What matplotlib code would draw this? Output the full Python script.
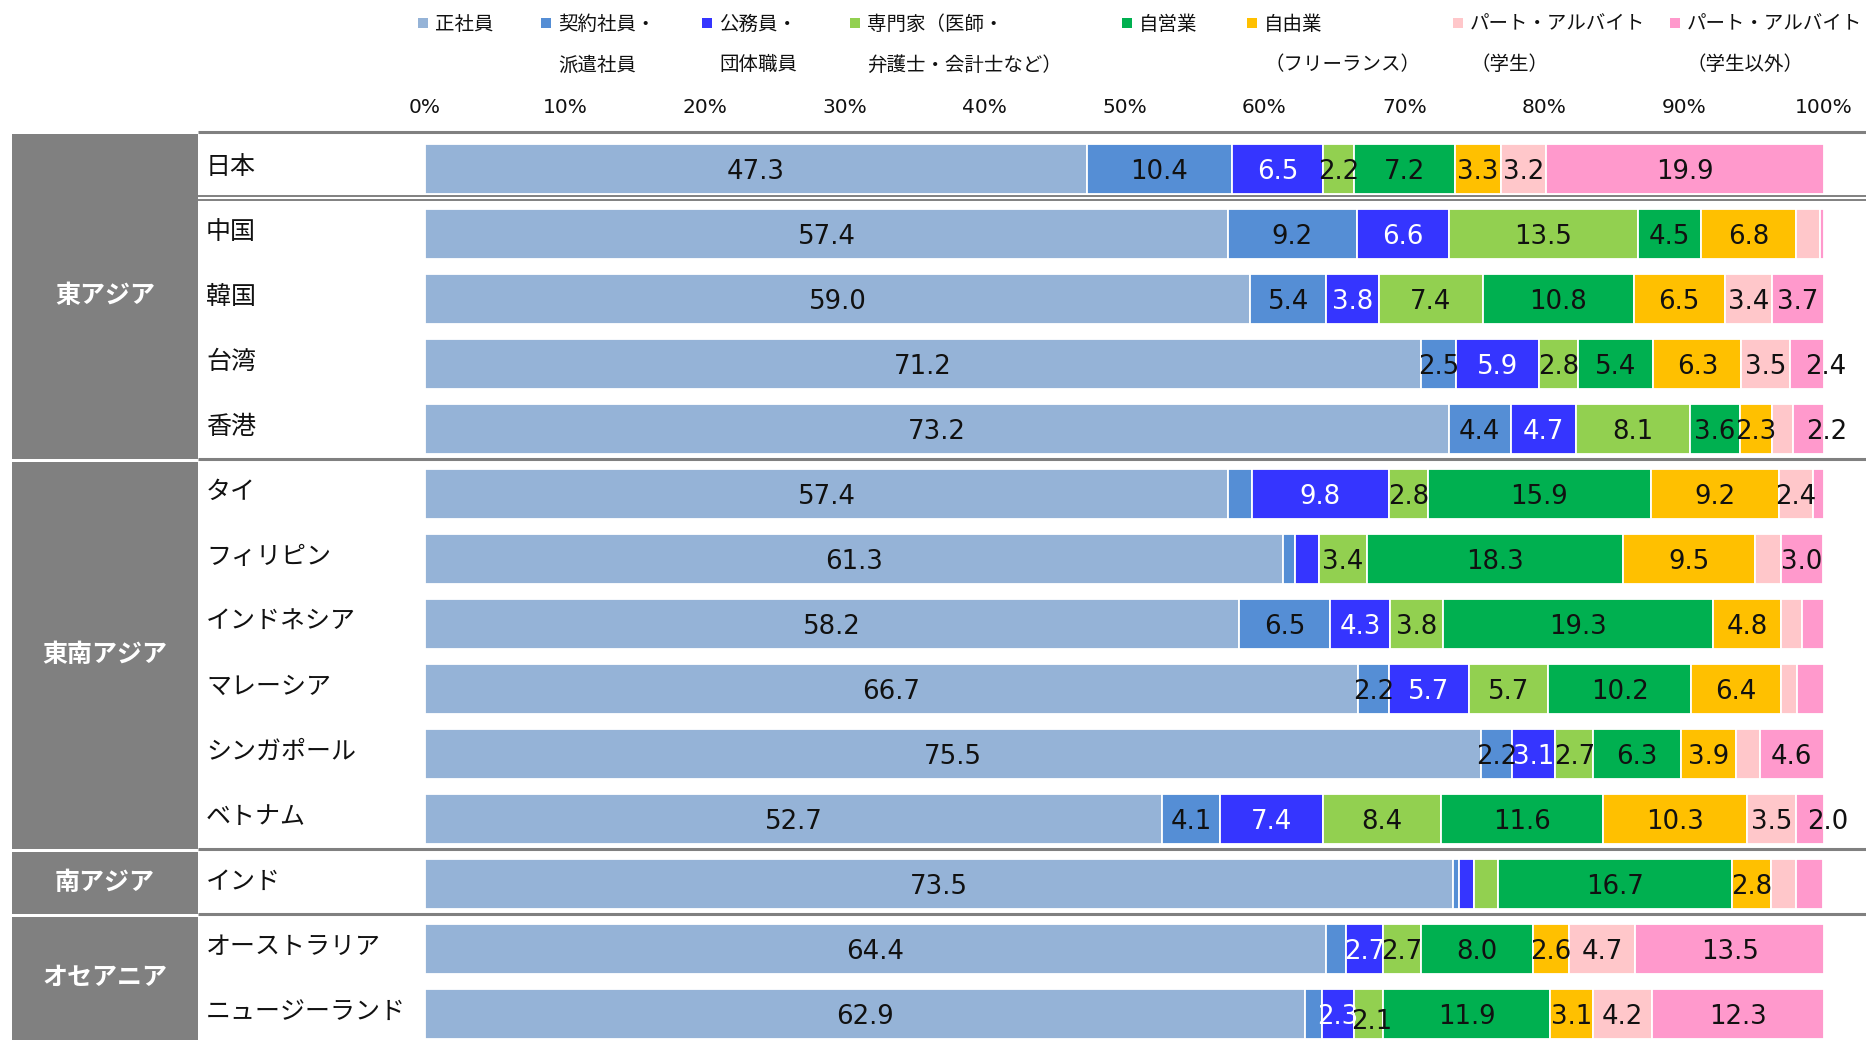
import matplotlib
matplotlib.use("Agg")
import matplotlib.pyplot as plt
from matplotlib.patches import Rectangle
from matplotlib.transforms import blended_transform_factory
import numpy as np

plt.rcParams["font.family"] = ["Noto Sans CJK JP", "DejaVu Sans"]

# ---- data -------------------------------------------------------------
countries = ["日本", "中国", "韓国", "台湾", "香港",
             "タイ", "フィリピン", "インドネシア", "マレーシア", "シンガポール", "ベトナム",
             "インド", "オーストラリア", "ニュージーランド"]

regions = ["東アジア", "東南アジア", "南アジア", "オセアニア"]
region_sizes = [5, 6, 1, 2]

series_labels = ["正社員", "契約社員・\n派遣社員", "公務員・\n団体職員",
                 "専門家（医師・\n弁護士・会計士など）", "自営業", "自由業\n（フリーランス）",
                 "パート・アルバイト\n（学生）", "パート・アルバイト\n（学生以外）"]

regular          = [47.3, 57.4, 59.0, 71.2, 73.2, 57.4, 61.3, 58.2, 66.7, 75.5, 52.7, 73.5, 64.4, 62.9]
contract         = [10.4, 9.2, 5.4, 2.5, 4.4, 1.7, 0.9, 6.5, 2.2, 2.2, 4.1, 0.4, 1.4, 1.2]
public_sector    = [6.5, 6.6, 3.8, 5.9, 4.7, 9.8, 1.7, 4.3, 5.7, 3.1, 7.4, 1.1, 2.7, 2.3]
professional     = [2.2, 13.5, 7.4, 2.8, 8.1, 2.8, 3.4, 3.8, 5.7, 2.7, 8.4, 1.7, 2.7, 2.1]
self_employed    = [7.2, 4.5, 10.8, 5.4, 3.6, 15.9, 18.3, 19.3, 10.2, 6.3, 11.6, 16.7, 8.0, 11.9]
freelance        = [3.3, 6.8, 6.5, 6.3, 2.3, 9.2, 9.5, 4.8, 6.4, 3.9, 10.3, 2.8, 2.6, 3.1]
parttime_student = [3.2, 1.7, 3.4, 3.5, 1.5, 2.4, 1.8, 1.5, 1.2, 1.7, 3.5, 1.8, 4.7, 4.2]
parttime_other   = [19.9, 0.3, 3.7, 2.4, 2.2, 0.8, 3.0, 1.6, 1.9, 4.6, 2.0, 1.9, 13.5, 12.3]

tick_values = [0, 10, 20, 30, 40, 50, 60, 70, 80, 90, 100]

# ---- styling ----------------------------------------------------------
colors = ["#95B3D7", "#558ED5", "#3535FF", "#92D050",
          "#00B050", "#FFC000", "#FFC7CA", "#FF99CC"]
text_colors = ["#111111", "#111111", "white", "#111111",
               "#111111", "#111111", "#111111", "#111111"]
legend_x = [418, 541, 702, 850, 1122, 1247, 1453, 1670]   # marker left edge, px
line_gray = "#808080"

W, H = 1866, 1040
fig = plt.figure(figsize=(W / 100, H / 100), dpi=100)
fig.patch.set_facecolor("white")


def fx(px):
    return px / W


def fy(py):
    return 1 - py / H


# bar axes: one row per country, 65 px pitch, first row centred at y=169 px
pitch = 65.0
row0 = 169.0
ax = fig.add_axes([fx(425), 0, fx(1824) - fx(425), fy(132)])
ax.set_xlim(0, 100)
ax.set_ylim((H - row0) / pitch, (132 - row0) / pitch)
for s in ax.spines.values():
    s.set_visible(False)
ax.set_yticks([])
ax.xaxis.tick_top()
ax.set_xticks(tick_values)
ax.set_xticklabels([f"{v}%" for v in tick_values], family="DejaVu Sans",
                   fontsize=14.5, color="#111111")
ax.tick_params(axis="x", length=0, pad=11)

data = np.array([regular, contract, public_sector, professional,
                 self_employed, freelance, parttime_student, parttime_other])
rows = np.arange(len(countries))
left = np.zeros(len(countries))
n_series = data.shape[0]
for k in range(n_series):
    vals = data[k]
    ax.barh(rows, vals, left=left, height=0.755, color=colors[k],
            edgecolor="white", linewidth=1.3, zorder=2)
    for i, v in enumerate(vals):
        if v >= 2.0:
            xc = left[i] + v / 2
            yc = i
            if k == n_series - 1 and v < 2.5:
                xc += 1.3
            # narrow neighbouring segments: drop the second label a little
            if k > 0 and v < 2.5 and data[k - 1][i] < 2.5 and data[k - 1][i] >= 2.0:
                xc += 0.25
                yc += 0.07
            ax.text(xc, yc, f"{v:.1f}", ha="center", va="center_baseline",
                    family="DejaVu Sans", fontsize=18.7,
                    color=text_colors[k], zorder=3)
    left += vals

# decorations left of / across the bar axes: x in figure fraction, y in rows
tr = blended_transform_factory(fig.transFigure, ax.transData)

# horizontal rules
y_top_rule = (132.5 - row0) / pitch
ax.plot([fx(198), 1], [y_top_rule, y_top_rule], color=line_gray, lw=2.2,
        transform=tr, clip_on=False, solid_capstyle="butt", zorder=1)
for yy in [0.415, 0.475]:
    ax.plot([fx(198), 1], [yy, yy], color=line_gray, lw=1.4,
            transform=tr, clip_on=False, solid_capstyle="butt", zorder=1)

bounds = np.cumsum(region_sizes)
for b in bounds[:-1]:
    yy = b - 0.535
    ax.plot([fx(198), 1], [yy, yy], color=line_gray, lw=2.2,
            transform=tr, clip_on=False, solid_capstyle="butt", zorder=1)

# region panels
start = 0
y_axis_bottom = (H - row0) / pitch
for name, n in zip(regions, region_sizes):
    y0 = start - 0.545 if start == 0 else start - 0.5 + 0.005
    y1 = start + n - 0.5 - 0.045
    last = start + n == len(countries)
    if last:
        y1 = y_axis_bottom + 0.2
    ax.add_patch(Rectangle((fx(12), y0), fx(198) - fx(12), y1 - y0,
                           facecolor=line_gray, edgecolor="none",
                           transform=tr, clip_on=False, zorder=1))
    yc = (y0 + min(y1, y_axis_bottom)) / 2
    ax.text(fx(105), yc, name, ha="center", va="center", color="white",
            fontsize=18, fontweight="bold", transform=tr, clip_on=False)
    start += n

# country names
for i, c in enumerate(countries):
    ax.text(fx(206), i - 0.03, c, ha="left", va="center", fontsize=18,
            color="#111111", transform=tr, clip_on=False)

# legend: square marker + two-line label per series
for k, lab in enumerate(series_labels):
    x0 = legend_x[k]
    fig.patches.append(Rectangle((fx(x0), fy(28)), fx(10), 10 / H,
                                 facecolor=colors[k], edgecolor="none",
                                 transform=fig.transFigure))
    lines = lab.split("\n")
    for j, line in enumerate(lines):
        fig.text(fx(x0 + 17), fy(24 + 41 * j), line, ha="left", va="center",
                 fontsize=14, color="#111111")

fig.savefig("out.png", dpi=100, facecolor="white")
